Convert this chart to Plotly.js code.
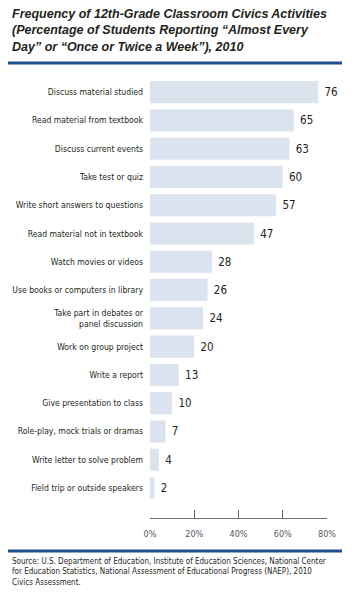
<!DOCTYPE html>
<html><head><meta charset="utf-8">
<script src="https://cdn.plot.ly/plotly-3.0.1.min.js"></script>
<style>html,body{margin:0;padding:0;background:#fff}#chart{width:355px;height:600px}</style>
</head><body><div id="chart"></div>
<script>
const categories = [
  "Discuss material studied",
  "Read material from textbook",
  "Discuss current events",
  "Take test or quiz",
  "Write short answers to questions",
  "Read material not in textbook",
  "Watch movies or videos",
  "Use books or computers in library",
  "Take part in debates or<br>panel discussion",
  "Work on group project",
  "Write a report",
  "Give presentation to class",
  "Role-play, mock trials or dramas",
  "Write letter to solve problem",
  "Field trip or outside speakers"
];
const values = [76, 65, 63, 60, 57, 47, 28, 26, 24, 20, 13, 10, 7, 4, 2];
const tickVals = [0, 20, 40, 60, 80];
const tickText = ["0%", "20%", "40%", "60%", "80%"];
const titleText = "Frequency of 12th-Grade Classroom Civics Activities<br>(Percentage of Students Reporting “Almost Every<br>Day” or “Once or Twice a Week”), 2010";
const sourceText = "Source: U.S. Department of Education, Institute of Education Sciences, National Center<br>for Education Statistics, National Assessment of Educational Progress (NAEP), 2010<br>Civics Assessment.";

const narrow = "'DejaVu Sans Condensed', 'Liberation Sans', sans-serif";
const trace = {
  type: 'bar', orientation: 'h',
  x: values, y: categories,
  marker: {color: '#dbe4ee', line: {width: 0}},
  text: values.map(v => ' ' + v),
  textposition: 'outside',
  textfont: {family: narrow, size: 11.5, color: '#231f20'},
  cliponaxis: false,
  hoverinfo: 'none',
  width: 0.78
};
const layout = {
  width: 355, height: 600,
  margin: {l: 150, r: 28, t: 78, b: 82},
  paper_bgcolor: '#fff', plot_bgcolor: '#fff',
  showlegend: false,
  xaxis: {
    range: [0, 80], tickvals: tickVals, ticktext: tickText,
    showgrid: false, zeroline: false,
    showline: true, linecolor: '#6d6e71', linewidth: 1,
    ticks: 'inside', ticklen: 8, tickcolor: '#6d6e71', tickwidth: 1,
    tickfont: {family: narrow, size: 9, color: '#58595b'},
    ticklabelstandoff: 7, fixedrange: true
  },
  yaxis: {
    type: 'category', categoryorder: 'array', categoryarray: categories,
    range: [15.06, -0.5],
    showgrid: false, zeroline: false, showline: false, ticks: '',
    tickfont: {family: narrow, size: 8.6, color: '#231f20'},
    ticklabelstandoff: 6, fixedrange: true
  },
  annotations: [
    {text: '<b><i>' + titleText + '</i></b>', xref: 'paper', yref: 'paper',
     x: (10 - 150) / 177, y: (518 - 5) / 440, xanchor: 'left', yanchor: 'top', align: 'left', showarrow: false,
     font: {family: "'Liberation Sans', Arial, sans-serif", size: 12.5, color: '#231f20'}},
    {text: sourceText, xref: 'paper', yref: 'paper',
     x: (10 - 150) / 177, y: (518 - 555) / 440, xanchor: 'left', yanchor: 'top', align: 'left', showarrow: false,
     font: {family: narrow, size: 8, color: '#231f20'}}
  ],
  shapes: [
    {type: 'line', xref: 'paper', yref: 'paper', x0: (8 - 150) / 177, x1: (342 - 150) / 177,
     y0: (518 - 63) / 440, y1: (518 - 63) / 440, line: {color: '#1f4e8c', width: 3}},
    {type: 'line', xref: 'paper', yref: 'paper', x0: (8 - 150) / 177, x1: (342 - 150) / 177,
     y0: (518 - 551) / 440, y1: (518 - 551) / 440, line: {color: '#1f4e8c', width: 3}}
  ]
};
Plotly.newPlot('chart', [trace], layout, {displayModeBar: false, staticPlot: true});
</script></body></html>
